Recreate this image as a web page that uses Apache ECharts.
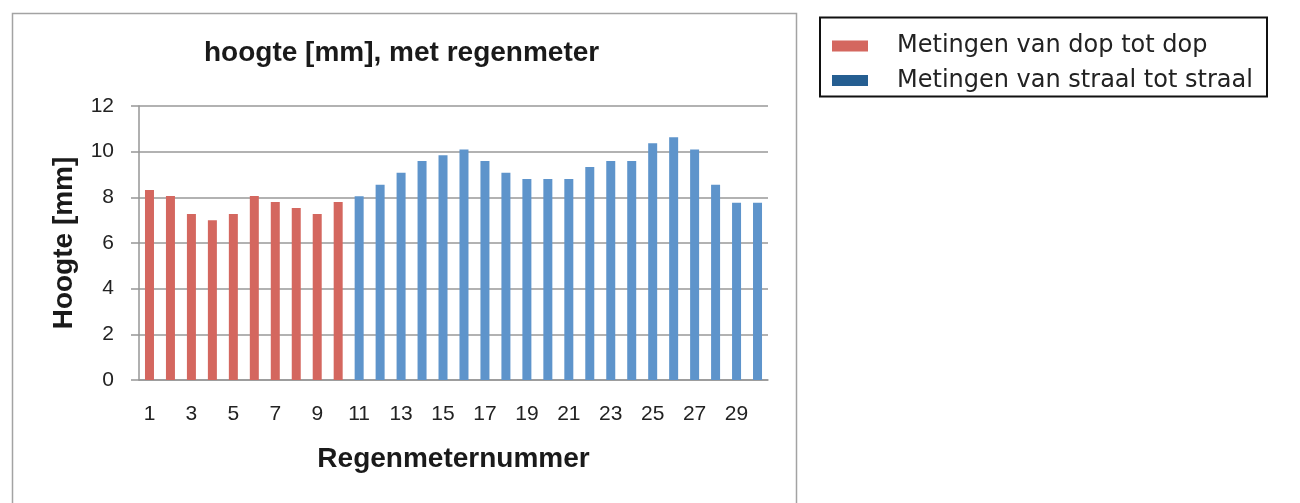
<!DOCTYPE html>
<html>
<head>
<meta charset="utf-8">
<script src="https://cdn.jsdelivr.net/npm/echarts@6/dist/echarts.min.js"></script>
<style>
  html, body { margin: 0; padding: 0; background: #fff; }
  #chart { width: 1300px; height: 503px; }
</style>
</head>
<body>
<div id="chart"></div>
<script>
// regenmeter nummers
const categories = ['1', '2', '3', '4', '5', '6', '7', '8', '9', '10',
  '11', '12', '13', '14', '15', '16', '17', '18', '19', '20',
  '21', '22', '23', '24', '25', '26', '27', '28', '29', '30'];

// metingen van dop tot dop (1-10)
const dopValues = [8.32, 8.06, 7.27, 7.0, 7.27, 8.06, 7.8, 7.53, 7.27, 7.8,
  null, null, null, null, null, null, null, null, null, null,
  null, null, null, null, null, null, null, null, null, null];

// metingen van straal tot straal (11-30)
const straalValues = [null, null, null, null, null, null, null, null, null, null,
  8.05, 8.55, 9.08, 9.59, 9.84, 10.1, 9.59, 9.08, 8.8, 8.8,
  8.8, 9.33, 9.59, 9.59, 10.37, 10.63, 10.1, 8.55, 7.76, 7.76];

const seriesNames = ['Metingen van dop tot dop', 'Metingen van straal tot straal'];

const chart = echarts.init(document.getElementById('chart'));

const axisFont = 'Liberation Sans, Arial, sans-serif';

const option = {
  animation: false,
  backgroundColor: '#fff',
  title: {
    text: 'hoogte [mm], met regenmeter',
    left: 204,
    top: 39,
    padding: 0,
    textStyle: {
      fontFamily: axisFont,
      fontWeight: 'bold',
      fontSize: 28,
      color: '#1a1a1a'
    }
  },
  legend: {
    orient: 'vertical',
    left: 832,
    top: 34,
    padding: 0,
    itemWidth: 36,
    itemHeight: 11,
    itemGap: 10.5,
    icon: 'rect',
    textStyle: {
      fontFamily: 'DejaVu Sans, Verdana, sans-serif',
      fontSize: 24,
      color: '#222',
      padding: [2, 0, 0, 24]
    },
    data: [
      { name: seriesNames[0], itemStyle: { color: '#D4675F' } },
      { name: seriesNames[1], itemStyle: { color: '#255E91' } }
    ]
  },
  graphic: [
    {
      type: 'rect',
      shape: { x: 12.5, y: 13.5, width: 784, height: 500 },
      style: { fill: null, stroke: '#a3a3a3', lineWidth: 1.5 },
      silent: true
    },
    {
      type: 'rect',
      shape: { x: 820, y: 17.5, width: 447, height: 79 },
      style: { fill: null, stroke: '#111', lineWidth: 2 },
      silent: true
    }
  ],
  grid: {
    left: 139,
    right: 532,
    top: 106,
    bottom: 123
  },
  xAxis: {
    type: 'category',
    data: categories,
    name: 'Regenmeternummer',
    nameLocation: 'middle',
    nameGap: 65,
    nameTextStyle: {
      fontFamily: axisFont,
      fontWeight: 'bold',
      fontSize: 28,
      color: '#1a1a1a'
    },
    axisLine: { lineStyle: { color: '#969696', width: 1.5 } },
    axisTick: { show: false },
    axisLabel: {
      interval: 1,
      margin: 24,
      fontFamily: axisFont,
      fontSize: 21,
      color: '#222'
    }
  },
  yAxis: {
    type: 'value',
    min: 0,
    max: 12,
    interval: 2,
    name: 'Hoogte [mm]',
    nameLocation: 'middle',
    nameGap: 61,
    nameTextStyle: {
      fontFamily: axisFont,
      fontWeight: 'bold',
      fontSize: 28,
      color: '#1a1a1a'
    },
    axisLine: { show: true, lineStyle: { color: '#969696', width: 1.5 } },
    axisTick: { show: true, length: 8, lineStyle: { color: '#969696', width: 1.5 } },
    axisLabel: {
      margin: 25,
      fontFamily: axisFont,
      fontSize: 21,
      color: '#222'
    },
    splitLine: { lineStyle: { color: '#999', width: 1.5 } }
  },
  series: [
    {
      name: seriesNames[0],
      type: 'bar',
      data: dopValues,
      barWidth: 9,
      barGap: '-100%',
      itemStyle: { color: '#D4675F' }
    },
    {
      name: seriesNames[1],
      type: 'bar',
      data: straalValues,
      barWidth: 9,
      barGap: '-100%',
      itemStyle: { color: '#5E94CB' }
    }
  ]
};

chart.setOption(option);
</script>
</body>
</html>
